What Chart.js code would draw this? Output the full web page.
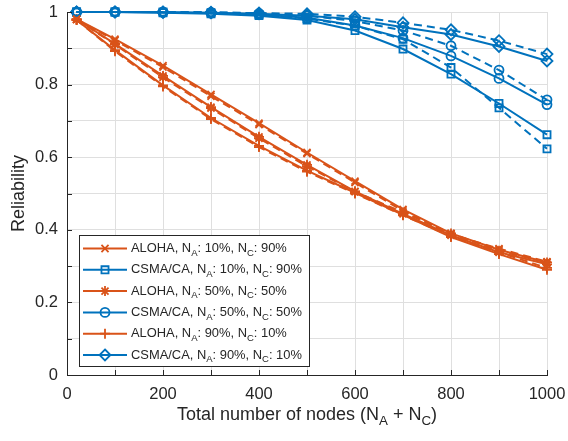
<!DOCTYPE html>
<html><head><meta charset="utf-8">
<script src="https://cdn.jsdelivr.net/npm/chart.js@4.4.1/dist/chart.umd.min.js"></script>
<style>html,body{margin:0;padding:0;background:#fff;}#wrap{width:568px;height:441px;}</style>
</head><body><div id="wrap"><canvas id="c" width="568" height="441"></canvas></div>
<script>
// ---- data ----
const nodes = [20, 100, 200, 300, 400, 500, 600, 700, 800, 900, 1000];
const xTickLabels = [0, 200, 400, 600, 800, 1000];
const yTickLabels = [0, 0.2, 0.4, 0.6, 0.8, 1];
const xTitle = 'Total number of nodes (N_A + N_C)';
const yTitle = 'Reliability';
const legendLabels = [
  'ALOHA, N_A: 10%, N_C: 90%',
  'CSMA/CA, N_A: 10%, N_C: 90%',
  'ALOHA, N_A: 50%, N_C: 50%',
  'CSMA/CA, N_A: 50%, N_C: 50%',
  'ALOHA, N_A: 90%, N_C: 10%',
  'CSMA/CA, N_A: 90%, N_C: 10%'
];
// solid lines
const aloha10 = [0.980, 0.925, 0.852, 0.773, 0.694, 0.613, 0.534, 0.456, 0.390, 0.345, 0.310];
const csma10  = [1.000, 1.000, 0.998, 0.995, 0.990, 0.978, 0.949, 0.898, 0.829, 0.748, 0.662];
const aloha50 = [0.980, 0.912, 0.824, 0.738, 0.656, 0.579, 0.506, 0.444, 0.385, 0.338, 0.305];
const csma50  = [1.000, 1.000, 0.999, 0.997, 0.993, 0.984, 0.963, 0.928, 0.879, 0.817, 0.745];
const aloha90 = [0.978, 0.895, 0.798, 0.708, 0.631, 0.563, 0.502, 0.441, 0.380, 0.333, 0.290];
const csma90  = [1.000, 1.000, 0.999, 0.998, 0.995, 0.990, 0.980, 0.958, 0.938, 0.905, 0.865];
// dashed lines
const aloha10d = [0.980, 0.922, 0.848, 0.768, 0.690, 0.610, 0.530, 0.452, 0.388, 0.348, 0.312];
const csma10d  = [1.000, 1.000, 1.000, 0.998, 0.993, 0.982, 0.962, 0.925, 0.847, 0.736, 0.623];
const aloha50d = [0.980, 0.910, 0.820, 0.735, 0.652, 0.575, 0.505, 0.448, 0.390, 0.342, 0.310];
const csma50d  = [1.000, 1.000, 1.000, 0.999, 0.996, 0.990, 0.975, 0.949, 0.907, 0.840, 0.758];
const aloha90d = [0.978, 0.892, 0.795, 0.705, 0.628, 0.560, 0.500, 0.440, 0.382, 0.338, 0.295];
const csma90d  = [1.000, 1.000, 1.000, 0.999, 0.997, 0.995, 0.987, 0.970, 0.951, 0.921, 0.884];

// ---- styles ----
const ORANGE = '#D95319', BLUE = '#0072BD', AXIS = '#262626', GRID = '#dfdfdf';
const FONT = "'Liberation Sans', Arial, Helvetica, sans-serif";
const series = [
  {solid: aloha10, dashed: aloha10d, color: ORANGE, marker: 'crossRot', r: 5},
  {solid: csma10,  dashed: csma10d,  color: BLUE,   marker: 'rect',     r: 5},
  {solid: aloha50, dashed: aloha50d, color: ORANGE, marker: 'star',     r: 5},
  {solid: csma50,  dashed: csma50d,  color: BLUE,   marker: 'circle',   r: 4.5},
  {solid: aloha90, dashed: aloha90d, color: ORANGE, marker: 'cross',    r: 5},
  {solid: csma90,  dashed: csma90d,  color: BLUE,   marker: 'rectRot',  r: 5.5}
];

const toPts = arr => arr.map((v, i) => ({x: nodes[i], y: v}));
const datasets = [];
series.forEach((s, i) => {
  const base = {
    borderColor: s.color, backgroundColor: s.color, borderWidth: 2,
    pointStyle: s.marker, pointRadius: s.r, pointBorderWidth: 1.8,
    pointBorderColor: s.color, pointBackgroundColor: 'rgba(0,0,0,0)',
    pointHoverRadius: s.r, tension: 0, clip: false, fill: false
  };
  datasets.push(Object.assign({}, base, {label: legendLabels[i], data: toPts(s.solid)}));
  datasets.push(Object.assign({}, base, {label: legendLabels[i] + ' (dashed)', data: toPts(s.dashed), borderDash: [8, 5]}));
});

// ---- rich text helpers (subscripts) ----
function parse(s) {
  const parts = []; const re = /_(\w)/g; let last = 0, m;
  while ((m = re.exec(s))) {
    if (m.index > last) parts.push({t: s.slice(last, m.index)});
    parts.push({t: m[1], sub: true}); last = re.lastIndex;
  }
  if (last < s.length) parts.push({t: s.slice(last)});
  return parts;
}
function drawRich(ctx, text, x, y, size, align) {
  const parts = parse(text);
  let w = 0;
  parts.forEach(p => { ctx.font = (p.sub ? size * 0.74 : size) + 'px ' + FONT; p.w = ctx.measureText(p.t).width; w += p.w; });
  let cx = align === 'center' ? x - w / 2 : x;
  ctx.textBaseline = 'middle'; ctx.textAlign = 'left'; ctx.fillStyle = AXIS;
  parts.forEach(p => {
    ctx.font = (p.sub ? size * 0.74 : size) + 'px ' + FONT;
    ctx.fillText(p.t, cx, p.sub ? y + size * 0.36 : y);
    cx += p.w;
  });
}
function drawMarker(ctx, style, x, y, r) {
  ctx.beginPath();
  const s = Math.SQRT1_2 * r;
  switch (style) {
    case 'crossRot': ctx.moveTo(x - s, y - s); ctx.lineTo(x + s, y + s); ctx.moveTo(x - s, y + s); ctx.lineTo(x + s, y - s); break;
    case 'cross': ctx.moveTo(x - r, y); ctx.lineTo(x + r, y); ctx.moveTo(x, y - r); ctx.lineTo(x, y + r); break;
    case 'star': ctx.moveTo(x - r, y); ctx.lineTo(x + r, y); ctx.moveTo(x, y - r); ctx.lineTo(x, y + r);
      ctx.moveTo(x - s, y - s); ctx.lineTo(x + s, y + s); ctx.moveTo(x - s, y + s); ctx.lineTo(x + s, y - s); break;
    case 'rect': ctx.rect(x - s, y - s, 2 * s, 2 * s); break;
    case 'circle': ctx.arc(x, y, r, 0, Math.PI * 2); break;
    case 'rectRot': ctx.moveTo(x, y - r); ctx.lineTo(x + r, y); ctx.lineTo(x, y + r); ctx.lineTo(x - r, y); ctx.closePath(); break;
  }
  ctx.stroke();
}

const overlay = {
  id: 'overlay',
  afterDraw(chart) {
    const {ctx, chartArea: a, scales: {x, y}} = chart;
    ctx.save();
    // inward tick marks
    ctx.strokeStyle = AXIS; ctx.lineWidth = 1; ctx.beginPath();
    for (let v = 0; v <= 1000; v += 100) { const px = Math.round(x.getPixelForValue(v)) + 0.5; ctx.moveTo(px, a.bottom); ctx.lineTo(px, a.bottom - 5); }
    for (let i = 0; i <= 10; i++) { const py = Math.round(y.getPixelForValue(i / 10)) + 0.5; ctx.moveTo(a.left, py); ctx.lineTo(a.left + 5, py); }
    ctx.stroke();
    // x title
    drawRich(ctx, xTitle, (a.left + a.right) / 2, 415, 18, 'center');
    // legend
    const bx = 79.5, by = 235.5, bw = 230, bh = 131;
    ctx.fillStyle = '#fff'; ctx.fillRect(bx, by, bw, bh);
    ctx.strokeStyle = AXIS; ctx.lineWidth = 1; ctx.strokeRect(bx, by, bw, bh);
    series.forEach((s, i) => {
      const yy = 248.5 + i * 21.3;
      ctx.strokeStyle = s.color; ctx.lineWidth = 2; ctx.setLineDash([]);
      ctx.beginPath(); ctx.moveTo(83, yy); ctx.lineTo(127, yy); ctx.stroke();
      ctx.lineWidth = 1.8; drawMarker(ctx, s.marker, 105, yy, s.r);
      drawRich(ctx, legendLabels[i], 131, yy, 12.9, 'left');
    });
    ctx.restore();
  }
};

new Chart(document.getElementById('c'), {
  type: 'line',
  data: {datasets},
  plugins: [overlay],
  options: {
    responsive: false, animation: false, devicePixelRatio: 1,
    layout: {padding: {top: 12, right: 21, left: 0, bottom: 0}},
    plugins: {legend: {display: false}, tooltip: {enabled: false}},
    scales: {
      x: {
        type: 'linear', min: 0, max: 1000,
        afterFit: s => { s.height = 66; s.paddingLeft = 0; s.paddingRight = 0; },
        grid: {color: GRID, drawTicks: false},
        border: {color: AXIS, width: 1},
        ticks: {
          stepSize: 100, autoSkip: false, maxRotation: 0, padding: 10, color: AXIS,
          font: {family: FONT, size: 16.5},
          callback: v => xTickLabels.includes(v) ? String(v) : ''
        }
      },
      y: {
        type: 'linear', min: 0, max: 1,
        afterFit: s => { s.width = 67; s.paddingTop = 0; s.paddingBottom = 0; },
        grid: {color: GRID, drawTicks: false},
        border: {color: AXIS, width: 1},
        title: {display: true, text: yTitle, color: AXIS, font: {family: FONT, size: 18}, padding: {top: 8, bottom: 0}},
        ticks: {
          stepSize: 0.1, autoSkip: false, padding: 9, color: AXIS,
          font: {family: FONT, size: 16.5},
          callback: v => { const r = Math.round(v * 10) / 10; return yTickLabels.includes(r) ? String(r) : ''; }
        }
      }
    }
  }
});
</script></body></html>
